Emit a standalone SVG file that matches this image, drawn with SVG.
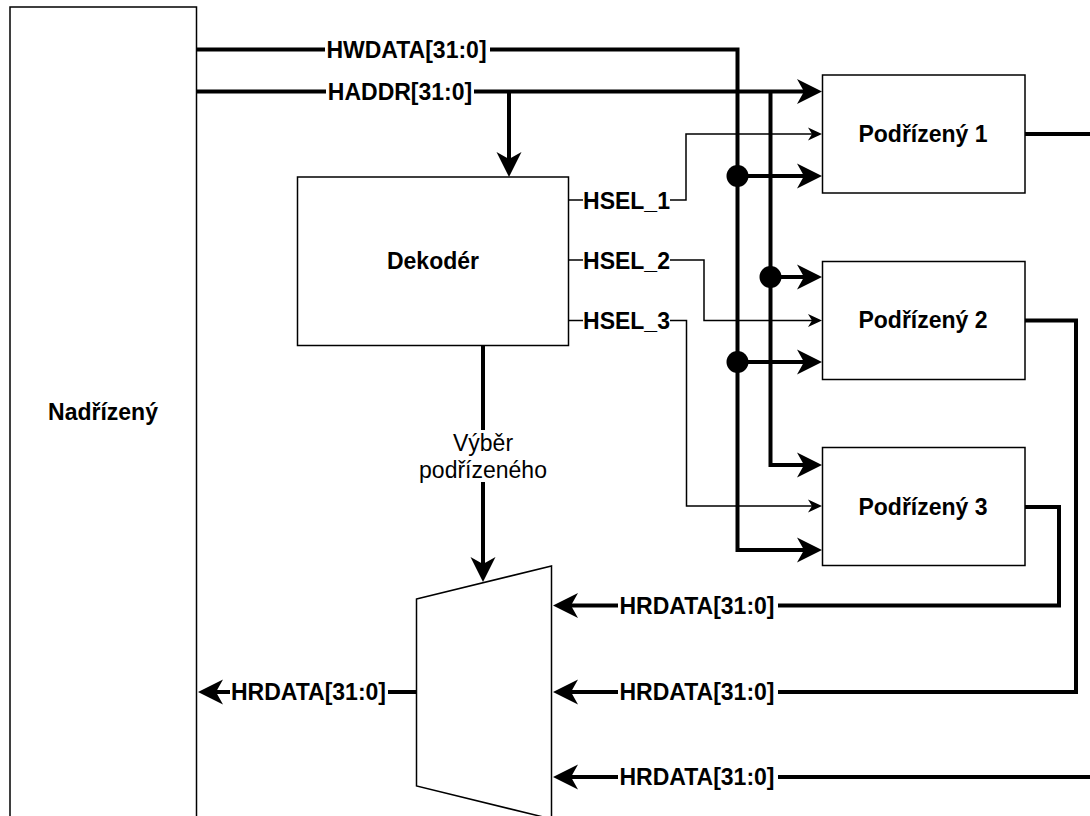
<svg xmlns="http://www.w3.org/2000/svg" width="1090" height="816" viewBox="0 0 1090 816">
<style>
.box{fill:#fff;stroke:#000;stroke-width:1.5}
.thick{fill:none;stroke:#000;stroke-width:4;stroke-linejoin:miter}
.thin{fill:none;stroke:#000;stroke-width:1.5}
.t{font-family:"Liberation Sans",Arial,sans-serif;font-size:23px;font-weight:bold;fill:#000;text-anchor:middle}
.n{font-family:"Liberation Sans",Arial,sans-serif;font-size:23px;fill:#000;text-anchor:middle}
.dot{fill:#000}
</style>
<defs>
<marker id="ah" viewBox="-26 -13 27 26" refX="-10" refY="0" markerWidth="27" markerHeight="26" markerUnits="userSpaceOnUse" orient="auto"><path d="M0,0 L-25,-12.5 L-18,0 L-25,12.5 Z" fill="#000"/></marker>
<marker id="at" viewBox="-15 -7 16 14" refX="-5" refY="0" markerWidth="16" markerHeight="14" markerUnits="userSpaceOnUse" orient="auto"><path d="M0,0 L-14,-6.5 L-10,0 L-14,6.5 Z" fill="#000"/></marker>
</defs>
<rect width="1090" height="816" fill="#fff"/>

<g id="nadrizeny"><rect class="box" x="10" y="7" width="186.5" height="830"/><text class="t" x="103" y="420">Nadřízený</text></g>
<g id="dekoder"><rect class="box" x="297.5" y="177" width="271" height="168.5"/><text class="t" x="433" y="269">Dekodér</text></g>
<g id="podrizeny1"><rect class="box" x="822.5" y="75" width="202.5" height="118"/><text class="t" x="923" y="142">Podřízený 1</text></g>
<g id="podrizeny2"><rect class="box" x="822.5" y="261.5" width="202.5" height="118"/><text class="t" x="923" y="328">Podřízený 2</text></g>
<g id="podrizeny3"><rect class="box" x="822.5" y="447.5" width="202.5" height="118"/><text class="t" x="923" y="515">Podřízený 3</text></g>
<g id="mux"><polygon class="box" points="416.5,599 551.5,566 551.5,819 416.5,786"/></g>

<g id="connectors">
<!-- HWDATA -->
<path class="thick" d="M196.5,49.5 H325"/>
<path class="thick" d="M490,49.5 H737.5 V550 H812" marker-end="url(#ah)"/>
<text class="t" x="406.5" y="57.5">HWDATA[31:0]</text>
<path class="thick" d="M737.5,176 H812" marker-end="url(#ah)"/>
<path class="thick" d="M737.5,362 H812" marker-end="url(#ah)"/>
<circle class="dot" cx="737.5" cy="176" r="11"/>
<circle class="dot" cx="737.5" cy="362" r="11"/>
<!-- HADDR -->
<path class="thick" d="M196.5,91.5 H326"/>
<path class="thick" d="M474,91.5 H812" marker-end="url(#ah)"/>
<text class="t" x="400" y="99.5">HADDR[31:0]</text>
<path class="thick" d="M509,91.5 V167" marker-end="url(#ah)"/>
<path class="thick" d="M770.5,91.5 V465 H812" marker-end="url(#ah)"/>
<path class="thick" d="M770.5,277 H812" marker-end="url(#ah)"/>
<circle class="dot" cx="770.5" cy="277" r="11"/>
<!-- HSEL -->
<path class="thin" d="M568.5,200 H583"/>
<text class="t" x="626.5" y="208.5">HSEL_1</text>
<path class="thin" d="M670,200 H686 V134 H817" marker-end="url(#at)"/>
<path class="thin" d="M568.5,260 H583"/>
<text class="t" x="626.5" y="268.5">HSEL_2</text>
<path class="thin" d="M670,260 H704 V320.5 H817" marker-end="url(#at)"/>
<path class="thin" d="M568.5,320.5 H583"/>
<text class="t" x="626.5" y="329">HSEL_3</text>
<path class="thin" d="M670,320.5 H686.5 V506 H817" marker-end="url(#at)"/>
<!-- Decoder to mux -->
<path class="thick" d="M483,345.5 V430"/>
<path class="thick" d="M483,482 V572" marker-end="url(#ah)"/>
<text class="n" x="483" y="451">Výběr</text>
<text class="n" x="483" y="478">podřízeného</text>
<!-- Slaves to mux -->
<path class="thick" d="M1025,507 H1059 V605.5 H778"/>
<path class="thick" d="M618,605.5 H563" marker-end="url(#ah)"/>
<text class="t" x="697" y="613.5">HRDATA[31:0]</text>
<path class="thick" d="M1025,320.5 H1076 V692 H778"/>
<path class="thick" d="M618,692 H563" marker-end="url(#ah)"/>
<text class="t" x="697" y="700">HRDATA[31:0]</text>
<path class="thick" d="M1025,134 H1092"/>
<path class="thick" d="M1092,777 H778"/>
<path class="thick" d="M618,777 H563" marker-end="url(#ah)"/>
<text class="t" x="697" y="785">HRDATA[31:0]</text>
<!-- Mux to master -->
<path class="thick" d="M416.5,692 H388"/>
<path class="thick" d="M230,692 H208" marker-end="url(#ah)"/>
<text class="t" x="308.5" y="700">HRDATA[31:0]</text>
</g>
</svg>
